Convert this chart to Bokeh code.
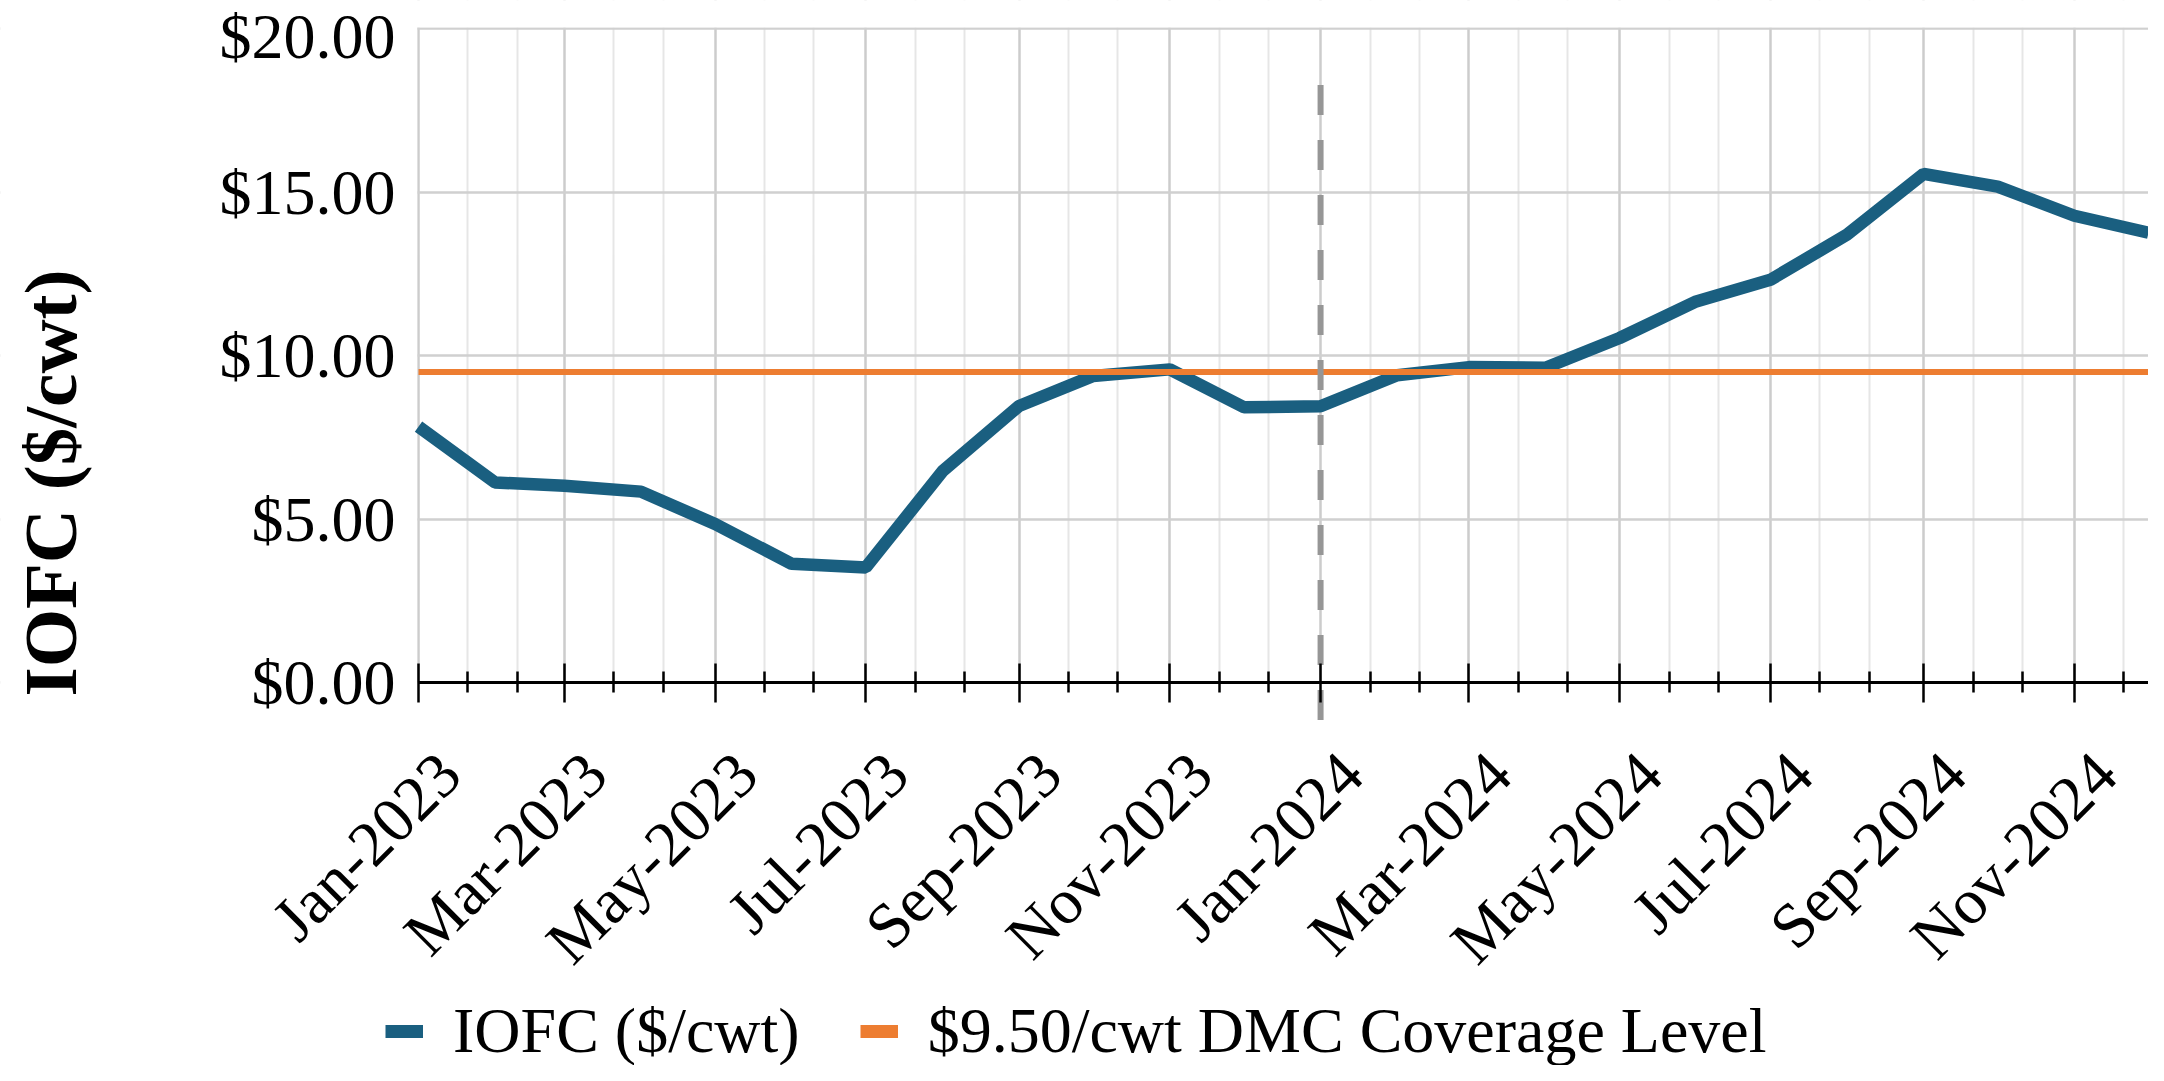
import math
import pandas as pd
from bokeh.plotting import figure
from bokeh.models import (Range1d, FixedTicker, NumeralTickFormatter, DatetimeTickFormatter,
                          Legend, LegendItem, ColumnDataSource, BoxAnnotation,
                          DatetimeAxis, LinearAxis)
from bokeh.embed import file_html
from bokeh.resources import INLINE

# ---------------- data ----------------
months = ["2023-01-01", "2023-02-01", "2023-03-01", "2023-04-01", "2023-05-01", "2023-06-01",
          "2023-07-01", "2023-08-01", "2023-09-01", "2023-10-01", "2023-11-01", "2023-12-01",
          "2024-01-01", "2024-02-01", "2024-03-01", "2024-04-01", "2024-05-01", "2024-06-01",
          "2024-07-01", "2024-08-01", "2024-09-01", "2024-10-01", "2024-11-01", "2024-12-01"]
iofc = [7.83, 6.12, 6.02, 5.84, 4.85, 3.63, 3.52, 6.46, 8.46, 9.38, 9.58, 8.42,
        8.45, 9.40, 9.65, 9.63, 10.54, 11.66, 12.32, 13.70, 15.56, 15.17, 14.28, 13.76]
coverage_level = 9.50
tick_labels = ["Jan-2023", "Mar-2023", "May-2023", "Jul-2023", "Sep-2023", "Nov-2023",
               "Jan-2024", "Mar-2024", "May-2024", "Jul-2024", "Sep-2024", "Nov-2024"]
y_ticks = [0, 5, 10, 15, 20]
divider_date = "2024-01-01"
divider_span = [-1.15, 18.65]
series_names = ["IOFC ($/cwt)", "$9.50/cwt DMC Coverage Level"]
y_title = "IOFC ($/cwt)"

# ---------------- helpers ----------------
EPOCH = pd.Timestamp("1970-01-01")
def to_ms(ts):
    return float((ts - EPOCH) / pd.Timedelta("1ms"))

W, H = 2148, 1065
x_dates = pd.to_datetime(months)
src = ColumnDataSource(dict(x=x_dates, iofc=iofc, cov=[coverage_level] * len(months)))

major_ts = [pd.to_datetime(t, format="%b-%Y") for t in tick_labels]
major_ms = [to_ms(t) for t in major_ts]
x_first, x_last = x_dates[0], x_dates[-1]
minor_ms = []
for t in major_ts:
    for d in (20, 40):
        m = t + pd.Timedelta(days=d)
        if m <= x_last:
            minor_ms.append(to_ms(m))

# pixel layout of the plotting area inside the canvas (frame covers whole canvas)
PLOT_LEFT = 418          # canvas px of first month
PLOT_W = W - PLOT_LEFT   # px from first to last month
Y_TOP_PX, Y_ZERO_PX = 28.3, 682.0   # canvas px of y=20 and y=0
span = x_last - x_first
px_per_ms = PLOT_W / (span / pd.Timedelta("1ms"))
x_start = x_first - span * (PLOT_LEFT / PLOT_W)
ppu = (Y_ZERO_PX - Y_TOP_PX) / 20.0
y_end = 20 + Y_TOP_PX / ppu
y_start = -(H - Y_ZERO_PX) / ppu

FONT = "Liberation Serif"
BLUE = "#1a5f80"
ORANGE = "#ed7d31"

p = figure(width=W, height=H, x_axis_type="datetime",
           x_range=Range1d(x_start.to_pydatetime(), x_last.to_pydatetime()),
           y_range=Range1d(y_start, y_end),
           output_backend="svg", toolbar_location=None,
           min_border_left=0, min_border_right=0, min_border_top=0, min_border_bottom=0)
p.outline_line_color = None
p.background_fill_color = "white"
p.border_fill_color = "white"

# grids
p.ygrid.grid_line_color = "#d0d0d0"
p.ygrid.grid_line_width = 2.5
p.xgrid.grid_line_color = "#cccccc"
p.xgrid.grid_line_width = 2.5
p.xgrid.minor_grid_line_color = "#e6e6e6"
p.xgrid.minor_grid_line_width = 2

fmt = "%b-%Y"
def month_formatter():
    return DatetimeTickFormatter(microseconds=fmt, milliseconds=fmt, seconds=fmt, minsec=fmt,
                                 minutes=fmt, hourmin=fmt, hours=fmt, days=fmt,
                                 months=fmt, years=fmt)

# x axis line and ticks (at y = 0)
xt = FixedTicker(ticks=major_ms, minor_ticks=minor_ms)
xa = p.xaxis[0]
xa.ticker = xt
p.xgrid.ticker = xt
xa.formatter = month_formatter()
xa.major_label_overrides = {ms: "" for ms in major_ms}
xa.fixed_location = 0
xa.bounds = (to_ms(x_first), to_ms(x_last))
xa.axis_line_color = "black"
xa.axis_line_width = 3
xa.major_tick_line_color = "black"
xa.major_tick_line_width = 2.5
xa.major_tick_in = 19
xa.major_tick_out = 20
xa.minor_tick_line_color = "black"
xa.minor_tick_line_width = 2.5
xa.minor_tick_in = 11
xa.minor_tick_out = 10

# x tick labels (slanted, placed like the reference's)
LABEL_SHIFT_PX = 31
label_ms = [ms + LABEL_SHIFT_PX / px_per_ms for ms in major_ms]
xl = DatetimeAxis(ticker=FixedTicker(ticks=label_ms, minor_ticks=[]), formatter=month_formatter(),
                  major_label_overrides={ms: lbl for ms, lbl in zip(label_ms, tick_labels)},
                  fixed_location=0, axis_line_color=None,
                  major_tick_line_color=None, minor_tick_line_color=None,
                  major_tick_in=0, major_tick_out=0, minor_tick_in=0, minor_tick_out=0,
                  major_label_standoff=81, major_label_orientation=math.pi / 4,
                  major_label_text_font=FONT, major_label_text_font_size="64px",
                  major_label_text_color="black")
p.add_layout(xl, "below")

# y axis (at first month)
yt = FixedTicker(ticks=y_ticks)
ya = p.yaxis[0]
ya.ticker = yt
p.ygrid.ticker = yt
ya.fixed_location = to_ms(x_first)
ya.bounds = (min(y_ticks), max(y_ticks))
ya.formatter = NumeralTickFormatter(format="$0.00")
ya.axis_line_color = None
ya.major_tick_line_color = None
ya.minor_tick_line_color = None
ya.major_tick_in = 0
ya.major_tick_out = 0
ya.minor_tick_in = 0
ya.minor_tick_out = 0
ya.major_label_text_font = FONT
ya.major_label_text_font_size = "64px"
ya.major_label_text_color = "black"
ya.major_label_standoff = 23

# y axis title (centered like the reference's)
TITLE_CENTER_PX = 482.5
title_center = (Y_ZERO_PX - TITLE_CENTER_PX) / ppu
yta = LinearAxis(ticker=FixedTicker(ticks=[]), fixed_location=to_ms(x_first),
                 bounds=(0, 2 * title_center), axis_line_color=None,
                 major_tick_line_color=None, minor_tick_line_color=None,
                 major_tick_in=0, major_tick_out=0, minor_tick_in=0, minor_tick_out=0,
                 major_label_standoff=0,
                 axis_label=y_title, axis_label_text_font=FONT, axis_label_text_font_size="75px",
                 axis_label_text_font_style="bold", axis_label_text_color="black",
                 axis_label_standoff=327)
p.add_layout(yta, "left")

# white masks so the grid only fills the plot area
mask = dict(fill_color="white", fill_alpha=1, line_color=None, level="underlay")
p.add_layout(BoxAnnotation(top=0, **mask))
p.add_layout(BoxAnnotation(bottom=20 + 1.3 / ppu, **mask))
p.add_layout(BoxAnnotation(right=to_ms(x_first) - 1.3 / px_per_ms, **mask))

# series
p.line("x", "iofc", source=src, line_color=BLUE, line_width=12.5)
p.line("x", "cov", source=src, line_color=ORANGE, line_width=6)
div_x = pd.to_datetime([divider_date, divider_date])
p.line(div_x, divider_span, line_color="#969696", line_width=6, line_dash="30 25")

# legend
nan = float("nan")
d1 = p.line(x=[x_first], y=[nan], line_color=BLUE, line_width=13, line_cap="butt")
d2 = p.line(x=[x_first], y=[nan], line_color=ORANGE, line_width=13, line_cap="butt")
legend = Legend(items=[LegendItem(label=series_names[0], renderers=[d1]),
                       LegendItem(label=series_names[1], renderers=[d2])],
                location=(385, -3), orientation="horizontal",
                label_text_font=FONT, label_text_font_size="64px", label_text_color="black",
                glyph_width=38, glyph_height=56, label_height=56, label_standoff=30,
                spacing=60, padding=0, margin=0,
                border_line_color=None, background_fill_alpha=0)
p.add_layout(legend)

open("out.html", "w").write(file_html(p, INLINE))
